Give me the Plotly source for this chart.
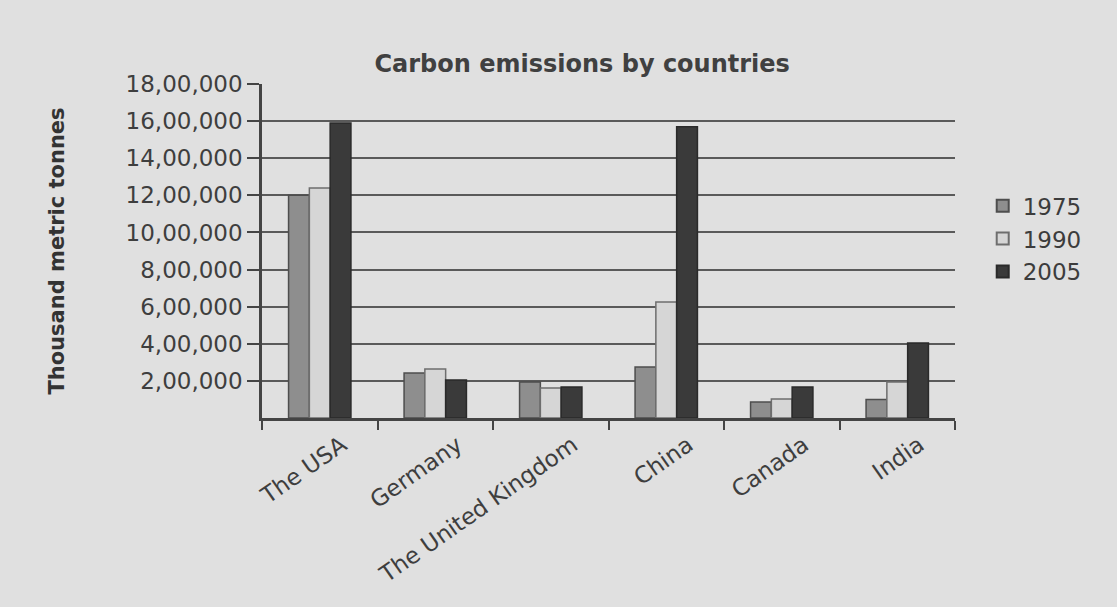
import plotly.graph_objects as go

# Carbon emissions (thousand metric tonnes) per country and year
countries = ["The USA", "Germany", "The United Kingdom", "China", "Canada", "India"]
years = ["1975", "1990", "2005"]
emissions_1975 = [1200000, 243000, 194000, 275000, 86000, 100000]
emissions_1990 = [1240000, 264000, 162000, 625000, 102000, 194000]
emissions_2005 = [1590000, 205000, 167000, 1570000, 167000, 404000]

tick_values = [200000, 400000, 600000, 800000, 1000000, 1200000, 1400000, 1600000, 1800000]
tick_labels = ["2,00,000", "4,00,000", "6,00,000", "8,00,000", "10,00,000",
               "12,00,000", "14,00,000", "16,00,000", "18,00,000"]

series = [
    (years[0], emissions_1975, "#8e8e8e", "#4e4e4e"),
    (years[1], emissions_1990, "#d6d6d6", "#6e6e6e"),
    (years[2], emissions_2005, "#3a3a3a", "#2a2a2a"),
]

font_family = "'DejaVu Sans', Verdana, sans-serif"
ink = "#3c3c3c"

fig = go.Figure()
for name, values, fill, edge in series:
    fig.add_trace(go.Bar(
        x=countries, y=values, name=name,
        marker=dict(color=fill, line=dict(color=edge, width=1.5)),
    ))

fig.update_layout(
    width=1117, height=607,
    barmode="group", bargap=0.46, bargroupgap=0.0,
    paper_bgcolor="#e0e0e0", plot_bgcolor="rgba(0,0,0,0)",
    margin=dict(l=262, r=162, t=84, b=189),
    font=dict(family=font_family, color=ink),
    title=dict(text="<b>Carbon emissions by countries</b>",
               x=0.462, xref="paper", y=0.895, yref="container",
               xanchor="center", yanchor="middle",
               font=dict(size=24, color="#404040")),
    legend=dict(x=1.04, y=0.7, xanchor="left", yanchor="top",
                font=dict(size=23, color=ink), bgcolor="rgba(0,0,0,0)",
                itemsizing="constant", tracegroupgap=2),
    showlegend=True,
)

fig.update_xaxes(
    tickangle=-35, tickfont=dict(size=23, color="#3e3e3e"),
    ticklabelshift=22, ticklabelstandoff=2,
    showline=True, linecolor="#444444", linewidth=2.5,
    ticks="outside", ticklen=9, tickwidth=2, tickcolor="#444444",
    tickson="boundaries", showgrid=False, automargin=False,
)
fig.update_yaxes(
    range=[0, 1800000], tickvals=tick_values, ticktext=tick_labels,
    tickfont=dict(size=23, color="#3e3e3e"),
    showline=True, linecolor="#444444", linewidth=2.5,
    ticks="outside", ticklen=12, tickwidth=2, tickcolor="#444444",
    showgrid=True, gridcolor="#5a5a5a", gridwidth=2,
    zeroline=False, automargin=False,
    title=dict(text="<b>Thousand metric tonnes</b>", standoff=56,
               font=dict(size=21, color="#333333")),
)

fig.write_html("out.html")
